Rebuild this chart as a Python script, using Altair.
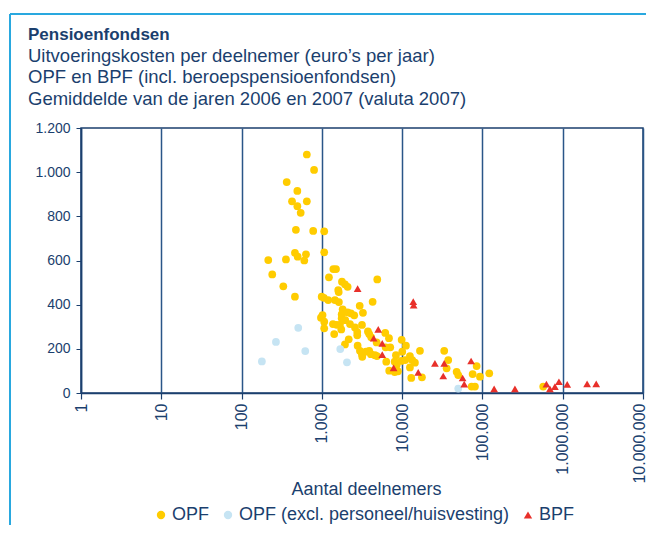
import altair as alt
import pandas as pd

# ---- data ----
series_names = ["OPF", "OPF (excl. personeel/huisvesting)", "BPF"]
series_colors = ["#FFCC00", "#C6E4F3", "#E8302A"]
series_shapes = ["circle", "circle", "triangle-up"]

opf_x = [650, 800, 365, 495, 425, 650, 495, 545, 475, 780,
         1070, 215, 357, 462, 500, 634, 604, 1070, 241, 331,
         462, 995, 1200, 1455, 1390, 1500, 1225, 1600, 1780, 1940,
         2095, 1620, 4900, 1060, 1630, 2960, 4290, 3250, 1815, 2095,
         2300, 2530, 1020, 975, 1765, 1765, 1070, 1070, 1375, 1530,
         1680, 1955, 2240, 1745, 1425, 2585, 2760, 2760, 3160, 2160,
         1940, 2790, 3750, 3890, 4120, 2980, 3160, 3185, 3540, 3890,
         4085, 4585, 4855, 4810, 6160, 6855, 7110, 6230, 6340, 8370,
         8070, 8545, 9750, 8870, 6905, 8070, 9860, 11150, 10030, 10930,
         12500, 13360, 14430, 12500, 16670, 12980, 17650, 33430, 37500, 35810,
         47720, 49970, 75530, 84690, 93100, 121600, 73350, 80680, 571600]
opf_y = [1080, 1010, 955, 915, 868, 868, 846, 816, 739, 734,
         732, 602, 605, 635, 617, 628, 600, 637, 537, 483,
         436, 436, 421, 421, 561, 561, 524, 466, 504, 492,
         481, 457, 514, 431, 412, 395, 413, 363, 379, 365,
         361, 352, 353, 341, 356, 338, 323, 293, 312, 309,
         309, 330, 312, 288, 267, 297, 276, 261, 308, 243,
         220, 214, 279, 267, 252, 191, 176, 164, 187, 191,
         176, 171, 167, 229, 272, 248, 207, 207, 142, 171,
         142, 127, 145, 98, 101, 95, 241, 214, 187, 149,
         167, 149, 137, 116, 191, 68, 71, 191, 149, 112,
         96, 81, 86, 122, 74, 89, 29, 29, 29]

opf_excl_x = [508, 268, 621, 179, 1695, 2055, 49970]
opf_excl_y = [295, 231, 190, 143, 199, 139, 20]

bpf_x = [2790, 13750, 13910, 5040, 4420, 5650, 5650, 7830, 15860, 25600,
         33430, 32500, 72300, 56650, 59330, 139900, 254000, 626800, 693000, 799500,
         897000, 1138000, 2013000, 2614000]
bpf_y = [473, 414, 398, 288, 248, 225, 174, 114, 93, 134,
         134, 77, 145, 68, 40, 19, 19, 40, 19, 29,
         51, 39, 41, 41]

x_ticks = [1, 10, 100, 1000, 10000, 100000, 1000000, 10000000]
x_tick_labels = ["1", "10", "100", "1.000", "10.000", "100.000", "1.000.000", "10.000.000"]
y_ticks = [0, 200, 400, 600, 800, 1000, 1200]
y_tick_labels = ["0", "200", "400", "600", "800", "1.000", "1.200"]

title_text = "Pensioenfondsen"
subtitle_lines = [
    "Uitvoeringskosten per deelnemer (euro\u2019s per jaar)",
    "OPF en BPF (incl. beroepspensioenfondsen)",
    "Gemiddelde van de jaren 2006 en 2007 (valuta 2007)",
]
x_title = "Aantal deelnemers"

# ---- table ----
rows = []
for name, xs, ys in [(series_names[0], opf_x, opf_y),
                     (series_names[1], opf_excl_x, opf_excl_y),
                     (series_names[2], bpf_x, bpf_y)]:
    for xv, yv in zip(xs, ys):
        rows.append({"reeks": name, "deelnemers": xv, "kosten": yv})
df = pd.DataFrame(rows)
df["volgorde"] = range(len(df))

navy = "#1B3F6E"
grid_col = "#2A5688"
frame_blue = "#29A8DF"

x_label_expr = "[" + ",".join("'" + s + "'" for s in x_tick_labels) + "][round(log(datum.value)/LN10)]"
y_label_expr = "[" + ",".join("'" + s + "'" for s in y_tick_labels) + "][round(datum.value/200)]"

legend = alt.Legend(title=None, orient="none", legendX=71, legendY=378,
                    direction="horizontal", labelFontSize=18, labelColor=navy,
                    symbolSize=70, labelOffset=2, columnPadding=9,
                    symbolStrokeWidth=0, labelLimit=400)

points = alt.Chart(df).mark_point(filled=True, opacity=1, size=60, strokeWidth=0).encode(
    x=alt.X("deelnemers:Q",
            scale=alt.Scale(type="log", domain=[1, 10000000], nice=False),
            axis=alt.Axis(values=x_ticks, labelExpr=x_label_expr, labelAngle=270,
                          title=x_title, grid=True, gridColor=grid_col, gridWidth=1.5,
                          gridOpacity=1, domainColor=navy, domainWidth=1.5,
                          tickColor=navy, tickSize=6, tickWidth=1.2,
                          labelColor=navy, labelFontSize=16, labelPadding=4,
                          labelOffset={"condition": {"test": "datum.value >= 10000000",
                                                     "value": -4},
                                       "value": 0},
                          titleFontSize=18, titleColor=navy, titleFontWeight="normal",
                          titleX=285, titleAlign="center",
                          titleY=96, titleBaseline="middle")),
    y=alt.Y("kosten:Q",
            scale=alt.Scale(domain=[0, 1200], nice=False),
            axis=alt.Axis(values=y_ticks, labelExpr=y_label_expr, title=None,
                          grid=False, domainColor=navy, domainWidth=1.5,
                          tickColor=navy, tickSize=5, labelColor=navy,
                          labelFontSize=14, labelPadding=6)),
    color=alt.Color("reeks:N", scale=alt.Scale(domain=series_names, range=series_colors),
                    legend=legend),
    shape=alt.Shape("reeks:N", scale=alt.Scale(domain=series_names, range=series_shapes),
                    legend=legend),
    order=alt.Order("volgorde:Q"),
)

one = alt.Data(values=[{}])
frame_top = alt.Chart(one).mark_rule(color=frame_blue, strokeWidth=2).encode(
    x=alt.value(-71), x2=alt.value(600), y=alt.value(-114))
frame_left = alt.Chart(one).mark_rule(color=frame_blue, strokeWidth=2).encode(
    x=alt.value(-71), y=alt.value(-114), y2=alt.value(420))

title_layers = [
    alt.Chart(one).mark_text(align="left", baseline="middle", fontSize=17,
                             fontWeight="bold", color=navy).encode(
        x=alt.value(-53), y=alt.value(-93), text=alt.value(title_text))
]
for line, yy in zip(subtitle_lines, [-72, -51, -29]):
    title_layers.append(
        alt.Chart(one).mark_text(align="left", baseline="middle", fontSize=18.5,
                                 color=navy).encode(
            x=alt.value(-53), y=alt.value(yy), text=alt.value(line)))

chart = alt.layer(frame_top, frame_left, *title_layers, points).properties(
    width=562, height=265,
    autosize=alt.AutoSizeParams(type="none"),
    padding={"left": 73, "top": 120, "right": 3, "bottom": 132},
).configure(font="Liberation Sans").configure_view(
    stroke=navy, strokeWidth=1.5
)

chart.save("out.html", embed_options={"renderer": "svg", "actions": False})
